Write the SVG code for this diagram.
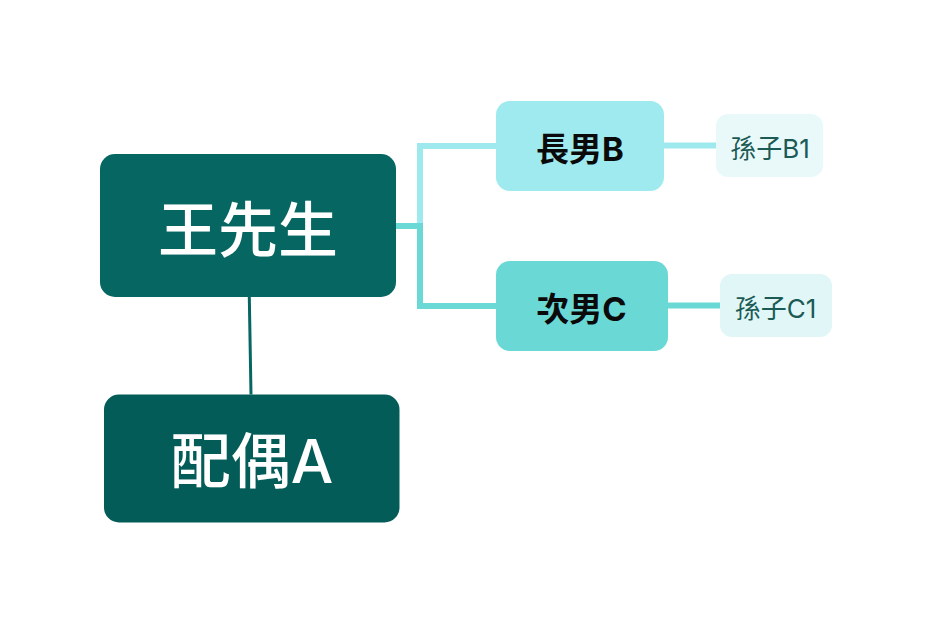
<svg xmlns="http://www.w3.org/2000/svg" width="932" height="624" viewBox="0 0 932 624">
<style>
text{font-family:"Inter","Noto Sans CJK TC","Noto Sans CJK SC",sans-serif;text-anchor:middle}
.root{fill:#066661}
.spouse{fill:#045c58}
.big{fill:#ffffff;font-size:60px;font-weight:500}
.mid{fill:#0a0a0a;font-size:33px;font-weight:700}
.small{fill:#1b5a55;font-size:26px;font-weight:400}
.c1{fill:none;stroke:#9ee9ee;stroke-width:6}
.c2{fill:none;stroke:#6ad9d6;stroke-width:6}
</style>
<rect width="932" height="624" fill="#ffffff"/>
<g id="connectors">
<path d="M249.3 297 L251 394.5" fill="none" stroke="#066661" stroke-width="3"/>
<path class="c1" d="M396 226 H420 V146 H498"/>
<path class="c2" d="M396 226 H420 V306 H498"/>
<path class="c1" d="M662 145.5 H718" stroke-width="4"/>
<path class="c2" d="M666 305.5 H722" stroke-width="4"/>
</g>
<g id="node-wang">
<rect class="root" x="100" y="154" width="296" height="143" rx="15"/>
<text class="big" x="248" y="252">王先生</text>
</g>
<g id="node-spouse">
<rect class="spouse" x="104" y="394.5" width="295.5" height="128" rx="15"/>
<text class="big" x="252" y="483">配偶A</text>
</g>
<g id="node-b">
<rect x="496" y="101" width="168" height="90" rx="14" fill="#9eeaee"/>
<text class="mid" x="580" y="161">長男B</text>
</g>
<g id="node-c">
<rect x="496" y="261" width="172" height="90" rx="14" fill="#6ad9d6"/>
<text class="mid" x="581.5" y="321">次男C</text>
</g>
<g id="node-b1">
<rect x="716" y="114" width="107" height="63" rx="12" fill="#e9f9fa"/>
<text class="small" x="770" y="158">孫子B1</text>
</g>
<g id="node-c1">
<rect x="720" y="274" width="112" height="63" rx="12" fill="#e0f6f7"/>
<text class="small" x="775.5" y="318">孫子C1</text>
</g>
</svg>
